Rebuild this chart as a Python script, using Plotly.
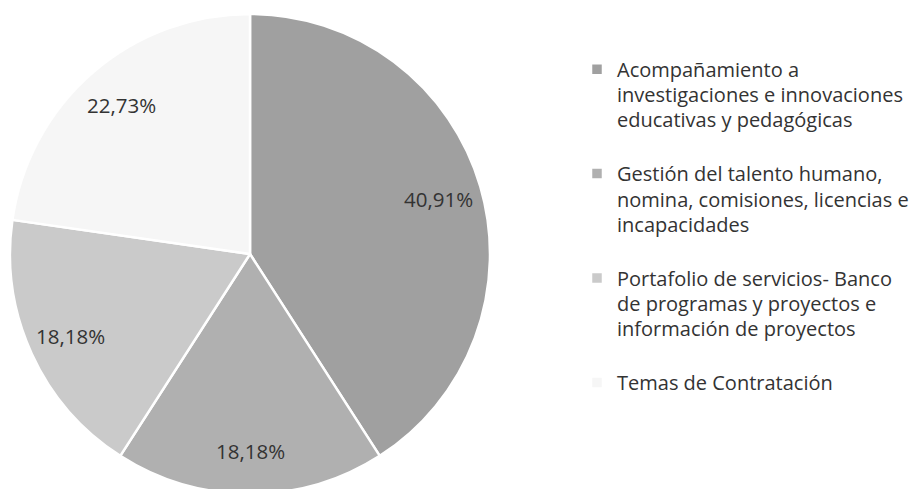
import math
import plotly.graph_objects as go

labels = [
    "Acompañamiento a<br>investigaciones e innovaciones<br>educativas y pedagógicas",
    "Gestión del talento humano,<br>nomina, comisiones, licencias e<br>incapacidades",
    "Portafolio de servicios- Banco<br>de programas y proyectos e<br>información de proyectos",
    "Temas de Contratación",
]
values = [40.91, 18.18, 18.18, 22.73]
colors = ["#a0a0a0", "#b0b0b0", "#cacaca", "#f6f6f6"]

W, H = 924, 489
# pie placement (figure pixels)
cx, cy, R = 242, 246, 240


def legend_text(s, last):
    body = "<br>".join(f"<span style='font-size:20px'>{p}</span>" for p in s.split("<br>"))
    return body if last else body + "<br> "


legend_labels = [legend_text(s, i == len(labels) - 1) for i, s in enumerate(labels)]

fig = go.Figure(go.Pie(
    labels=legend_labels,
    values=values,
    sort=False,
    direction="clockwise",
    rotation=0,
    marker=dict(colors=colors, line=dict(color="white", width=2.5)),
    textinfo="none",
    domain=dict(x=[(cx - R) / W, (cx + R) / W], y=[max(0, 1 - (cy + R) / H), 1 - (cy - R) / H]),
    hoverinfo="skip",
))

# data labels placed at the middle angle of each slice
total = sum(values)
cum = 0.0
for v in values:
    mid = (cum + v / 2) / total * 2 * math.pi
    cum += v
    px = cx + 0.82 * R * math.sin(mid)
    py = cy - 0.82 * R * math.cos(mid)
    fig.add_annotation(
        x=px / W, y=1 - py / H, xref="paper", yref="paper",
        xanchor="center", yanchor="middle",
        text=f"{v:.2f}%".replace(".", ","),
        showarrow=False,
        font=dict(family="Open Sans", size=20.5, color="#333333"),
    )

fig.update_layout(
    width=W, height=H,
    margin=dict(l=0, r=0, t=0, b=0),
    paper_bgcolor="white",
    plot_bgcolor="white",
    showlegend=True,
    legend=dict(
        x=569 / W, y=1 - 42 / H, xanchor="left", yanchor="top",
        font=dict(family="Open Sans", size=19.5, color="#333333"),
        valign="top",
        bgcolor="rgba(0,0,0,0)",
    ),
)

fig.write_html("out.html")
